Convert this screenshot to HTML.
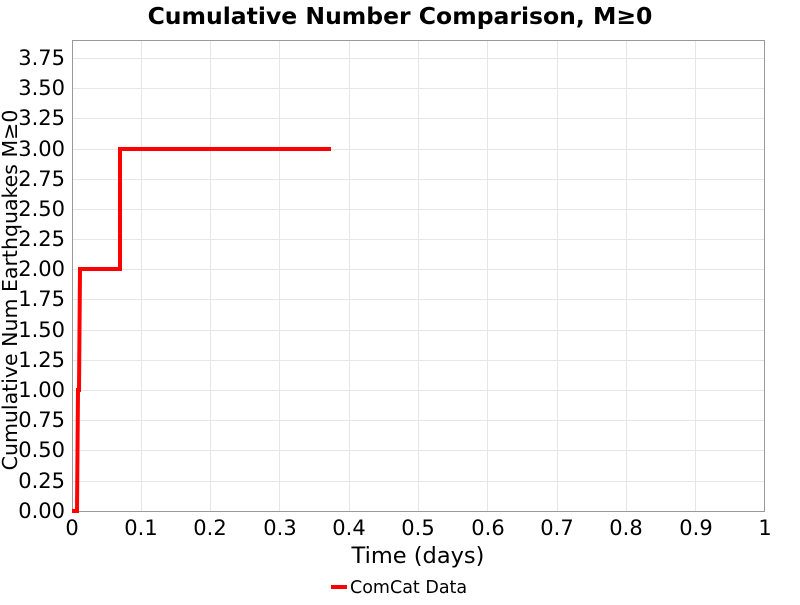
<!DOCTYPE html>
<html><head><style>body{margin:0;background:#fff}</style></head><body>
<svg width="800" height="600" xmlns="http://www.w3.org/2000/svg" font-family="DejaVu Sans, Liberation Sans, sans-serif">
<rect width="800" height="600" fill="#fff"/>
<g stroke="#e6e6e6" stroke-width="1">
<line x1="141.5" y1="40" x2="141.5" y2="511"/><line x1="210.5" y1="40" x2="210.5" y2="511"/><line x1="279.5" y1="40" x2="279.5" y2="511"/><line x1="349.5" y1="40" x2="349.5" y2="511"/><line x1="418.5" y1="40" x2="418.5" y2="511"/><line x1="487.5" y1="40" x2="487.5" y2="511"/><line x1="557.5" y1="40" x2="557.5" y2="511"/><line x1="626.5" y1="40" x2="626.5" y2="511"/><line x1="695.5" y1="40" x2="695.5" y2="511"/>
<line x1="72" y1="481.5" x2="765" y2="481.5"/><line x1="72" y1="450.5" x2="765" y2="450.5"/><line x1="72" y1="420.5" x2="765" y2="420.5"/><line x1="72" y1="390.5" x2="765" y2="390.5"/><line x1="72" y1="360.5" x2="765" y2="360.5"/><line x1="72" y1="330.5" x2="765" y2="330.5"/><line x1="72" y1="299.5" x2="765" y2="299.5"/><line x1="72" y1="269.5" x2="765" y2="269.5"/><line x1="72" y1="239.5" x2="765" y2="239.5"/><line x1="72" y1="209.5" x2="765" y2="209.5"/><line x1="72" y1="179.5" x2="765" y2="179.5"/><line x1="72" y1="149.5" x2="765" y2="149.5"/><line x1="72" y1="118.5" x2="765" y2="118.5"/><line x1="72" y1="88.5" x2="765" y2="88.5"/><line x1="72" y1="58.5" x2="765" y2="58.5"/>
</g>
<rect x="72.5" y="40.5" width="692" height="471" fill="none" stroke="#999"/>
<polyline points="72,511 77,511 78,390 79,390 80,269 120,269 120,149 331,149" fill="none" stroke="#f00" stroke-width="4"/>
<g font-size="21" fill="#000" text-anchor="end">
<text x="65" y="518">0.00</text><text x="65" y="488">0.25</text><text x="65" y="457">0.50</text><text x="65" y="427">0.75</text><text x="65" y="397">1.00</text><text x="65" y="367">1.25</text><text x="65" y="337">1.50</text><text x="65" y="306">1.75</text><text x="65" y="276">2.00</text><text x="65" y="246">2.25</text><text x="65" y="216">2.50</text><text x="65" y="186">2.75</text><text x="65" y="156">3.00</text><text x="65" y="125">3.25</text><text x="65" y="95">3.50</text><text x="65" y="65">3.75</text>
</g>
<g font-size="21" fill="#000" text-anchor="middle">
<text x="72" y="535">0</text><text x="141" y="535">0.1</text><text x="210" y="535">0.2</text><text x="280" y="535">0.3</text><text x="349" y="535">0.4</text><text x="418" y="535">0.5</text><text x="488" y="535">0.6</text><text x="557" y="535">0.7</text><text x="626" y="535">0.8</text><text x="696" y="535">0.9</text><text x="765" y="535">1</text>
<text x="418" y="563" font-size="22.5">Time (days)</text>
<text x="400" y="24" font-size="23.5" font-weight="bold">Cumulative Number Comparison, M≥0</text>
<text transform="translate(17,290) rotate(-90)" font-size="20.5">Cumulative Num Earthquakes M≥0</text>
</g>
<line x1="331" y1="587" x2="347" y2="587" stroke="#f00" stroke-width="4"/>
<text x="350" y="593" font-size="17.5">ComCat Data</text>
</svg>
</body></html>
